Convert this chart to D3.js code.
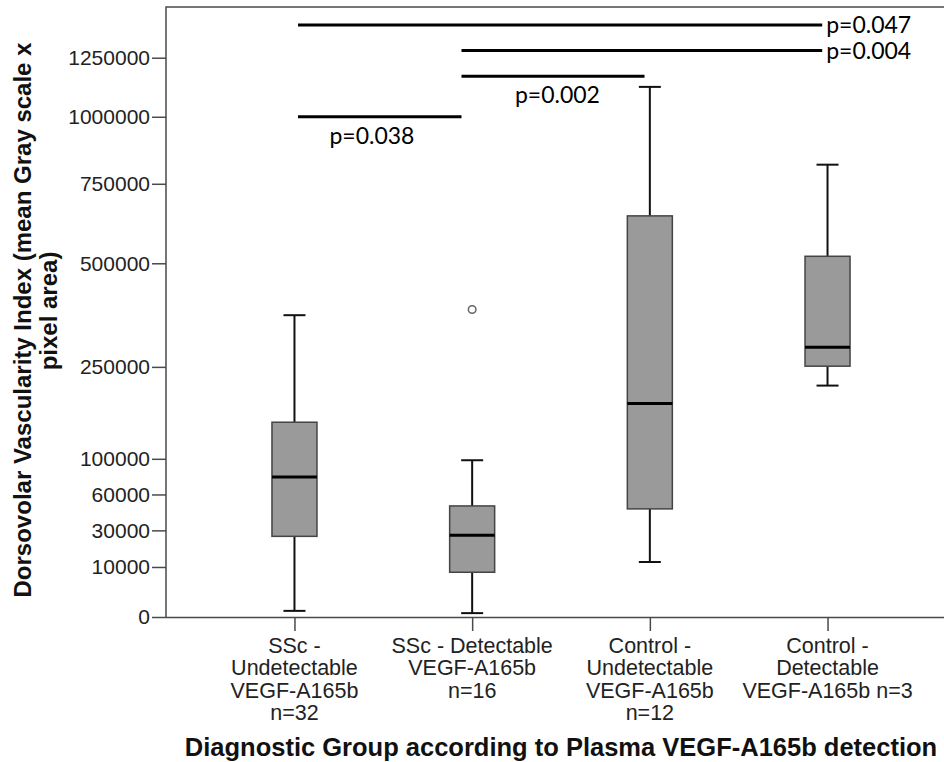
<!DOCTYPE html>
<html>
<head>
<meta charset="utf-8">
<script src="https://cdn.jsdelivr.net/npm/d3@7"></script>
<style>
  html, body { margin: 0; padding: 0; background: #fff; }
  svg { display: block; }
</style>
</head>
<body>
<svg id="chart" width="944" height="762"></svg>
<script>
// ---- data ----
const categories = ["SSc Undetectable", "SSc Detectable", "Control Undetectable", "Control Detectable"];
const categoryLabels = [
  ["SSc -", "Undetectable", "VEGF-A165b", "n=32"],
  ["SSc - Detectable", "VEGF-A165b", "n=16"],
  ["Control -", "Undetectable", "VEGF-A165b", "n=12"],
  ["Control -", "Detectable", "VEGF-A165b n=3"]
];
const whiskerLow  = [150, 60, 12100, 214000];
const q1          = [26000, 8000, 46700, 251400];
const median      = [78400, 26700, 182000, 291000];
const q3          = [151600, 49300, 643000, 520000];
const whiskerHigh = [364000, 98200, 1123000, 817600];
const outliers    = [[], [378000], [], []];
const yTicks = [0, 10000, 30000, 60000, 100000, 250000, 500000, 750000, 1000000, 1250000];
const yMax = 1487000;
// significance bars: start/end in category-index units, level in data units
const sigFrom  = [0.02, 0.94, 0.94, 0.02];
const sigTo    = [2.97, 2.97, 1.97, 0.94];
const sigLevel = [1400000, 1282000, 1169000, 1000000];
const sigLabel = ["p=0.047", "p=0.004", "p=0.002", "p=0.038"];
const sigLabelPos = ["right", "right", "below", "below"];
const sigLabelAt = [null, null, 1.48, 0.436];   // category-index position for labels placed below
const yTitle = ["Dorsovolar Vascularity Index (mean Gray scale x", "pixel area)"];
const xTitle = "Diagnostic Group according to Plasma VEGF-A165b detection";

// ---- layout ----
const svg = d3.select("#chart");
const plotLeft = 166, plotRight = 956, plotTop = 7, plotBottom = 617;

const x = d3.scalePoint().domain(categories).range([plotLeft, plotRight]).padding(0.723);
const xi = d3.scaleLinear().domain([0, categories.length - 1])
  .range([x(categories[0]), x(categories[categories.length - 1])]);
const y = d3.scaleSqrt().domain([0, yMax]).range([plotBottom, plotTop]);

const axisColor = "#4a4a4a";
const font = "'Liberation Sans', Arial, sans-serif";

// frame (left + top)
svg.append("path")
  .attr("d", d3.line()([[plotLeft, y(0)], [plotLeft, y(yMax)], [plotRight, y(yMax)]]))
  .attr("fill", "none").attr("stroke", axisColor).attr("stroke-width", 1.5);

// y axis
const yAxis = d3.axisLeft(y).tickValues(yTicks).tickSize(14).tickPadding(2)
  .tickFormat(d3.format("d"));
const gy = svg.append("g").attr("transform", `translate(${plotLeft},0)`).call(yAxis);
gy.select(".domain").remove();
gy.selectAll(".tick line").attr("stroke", axisColor).attr("stroke-width", 1.5);
gy.selectAll(".tick text").attr("fill", "#222").style("font-family", font).style("font-size", "21px");

// x axis
const xAxis = d3.axisBottom(x).tickSize(14).tickFormat("");
const gx = svg.append("g").attr("transform", `translate(0,${plotBottom})`).call(xAxis);
gx.select(".domain").attr("d", `M${plotLeft},0.5H${plotRight}`).attr("stroke", axisColor).attr("stroke-width", 1.5);
gx.selectAll(".tick line").attr("stroke", axisColor).attr("stroke-width", 1.5);

// category labels
categories.forEach((c, i) => {
  const t = svg.append("text")
    .attr("x", x(c)).attr("y", 653)
    .attr("text-anchor", "middle")
    .style("font-family", font).style("font-size", "21.5px").attr("fill", "#222");
  categoryLabels[i].forEach((line, j) => {
    t.append("tspan").attr("x", x(c)).attr("y", 653 + j * 22.3).text(line);
  });
});

// boxes
const boxW = 45, capW = 22;
const boxes = svg.append("g");
categories.forEach((c, i) => {
  const cx = x(c);
  const g = boxes.append("g");
  g.append("line").attr("x1", cx).attr("x2", cx).attr("y1", y(q3[i])).attr("y2", y(whiskerHigh[i]))
    .attr("stroke", "#111").attr("stroke-width", 2);
  g.append("line").attr("x1", cx).attr("x2", cx).attr("y1", y(q1[i])).attr("y2", y(whiskerLow[i]))
    .attr("stroke", "#111").attr("stroke-width", 2);
  [whiskerHigh[i], whiskerLow[i]].forEach(v => {
    g.append("line").attr("x1", cx - capW / 2).attr("x2", cx + capW / 2).attr("y1", y(v)).attr("y2", y(v))
      .attr("stroke", "#111").attr("stroke-width", 2);
  });
  g.append("rect").attr("x", cx - boxW / 2).attr("width", boxW)
    .attr("y", y(q3[i])).attr("height", y(q1[i]) - y(q3[i]))
    .attr("fill", "#9a9a9a").attr("stroke", "#444").attr("stroke-width", 1.5);
  g.append("line").attr("x1", cx - boxW / 2).attr("x2", cx + boxW / 2)
    .attr("y1", y(median[i])).attr("y2", y(median[i]))
    .attr("stroke", "#000").attr("stroke-width", 3);
  outliers[i].forEach(v => {
    g.append("circle").attr("cx", cx).attr("cy", y(v)).attr("r", 3.8)
      .attr("fill", "#fff").attr("stroke", "#666").attr("stroke-width", 1.5);
  });
});

// significance bars
const sig = svg.append("g");
sigLabel.forEach((lab, i) => {
  const x1 = xi(sigFrom[i]), x2 = xi(sigTo[i]), yy = y(sigLevel[i]);
  sig.append("line").attr("x1", x1).attr("x2", x2).attr("y1", yy).attr("y2", yy)
    .attr("stroke", "#000").attr("stroke-width", 3);
  const t = sig.append("text").text(lab)
    .style("font-family", "Lato, 'Open Sans', sans-serif").style("font-size", "23px").attr("fill", "#000");
  if (sigLabelPos[i] === "right") {
    t.attr("x", x2 + 4).attr("y", yy + 8).attr("text-anchor", "start");
  } else {
    t.attr("x", xi(sigLabelAt[i])).attr("y", yy + 27).attr("text-anchor", "middle");
  }
});

// y title
const yTitleCenters = [320, 311];
const yTitleBaselines = [31, 57];
yTitle.forEach((line, j) => {
  svg.append("text")
    .attr("transform", `translate(${yTitleBaselines[j]},${yTitleCenters[j]}) rotate(-90)`)
    .attr("text-anchor", "middle")
    .style("font-family", font).style("font-size", "24px").style("font-weight", "bold")
    .attr("fill", "#111").text(line);
});

// x title
svg.append("text").attr("x", (plotLeft + plotRight) / 2).attr("y", 756).attr("text-anchor", "middle")
  .style("font-family", font).style("font-size", "25.5px").style("font-weight", "bold")
  .attr("fill", "#111").text(xTitle);
</script>
</body>
</html>
